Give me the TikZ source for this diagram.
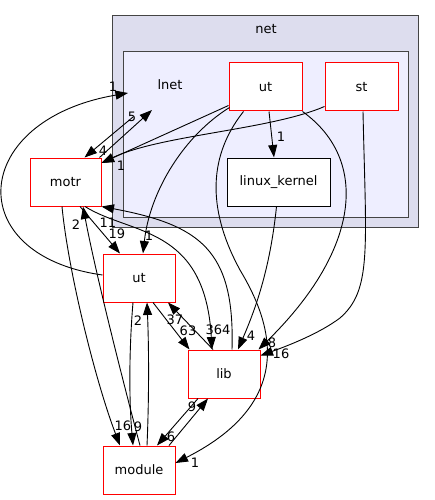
\documentclass[tikz,border=0pt]{standalone}
\usepackage{fontspec}
\setmainfont{DejaVu Sans}
\usetikzlibrary{arrows.meta}
\definecolor{outerfill}{HTML}{DDDDEE}
\definecolor{innerfill}{HTML}{EEEEFF}
\definecolor{clborder}{HTML}{444444}
\begin{document}
\begin{tikzpicture}[x=1pt,y=-1pt,
  font=\fontsize{13}{15}\selectfont,
  dirbox/.style={draw=red, fill=white, line width=1pt, minimum width=72pt, minimum height=48pt, inner sep=0pt},
  dep/.style={draw=black, line width=0.9pt, -{Triangle[length=12.5pt,width=9pt]}},
  lbl/.style={inner sep=0pt, font=\fontsize{13}{15}\selectfont}]
\useasboundingbox (0,0) rectangle (435,500);
% clusters
\draw[clborder, fill=outerfill, line width=1pt] (112.5,15.5) rectangle (418.5,227.5);
\draw[clborder, fill=innerfill, line width=1pt] (123,52) rectangle (408.5,217);
\node (net) at (266,29) {net};
\node (lnet) at (170,85) {lnet};
\coordinate (lnetA) at (128,93);
\coordinate (lnetB) at (152,110);
\coordinate (lnetC) at (133,117);
% nodes
\node[dirbox, minimum width=71pt] (motr) at (65.5,182) {motr};
\node[dirbox] (uto) at (139,278) {ut};
\node[dirbox] (lib) at (224,374) {lib};
\node[dirbox] (module) at (139,470) {module};
\node[dirbox, minimum width=73pt] (utl) at (265.5,87) {ut};
\node[dirbox, minimum width=73pt] (st) at (361.5,87) {st};
\node[dirbox, draw=black, minimum width=103pt] (lk) at (278.5,182) {linux\_kernel};
% edges
\draw[dep] ([shift={(0,-3)}]uto.west) .. controls (-40,255) and (-30,120) .. (lnetA);
\draw[dep] ([shift={(34,0)}]motr.north) -- (lnetB);
\draw[dep] (lnetC) -- ([shift={(19,0)}]motr.north);
\draw[dep] ([shift={(0,-6)}]utl.south west) -- ([shift={(0,-19)}]motr.east);
\draw[dep] ([shift={(0,-5)}]st.south west) .. controls (270,130) and (160,135) .. ([shift={(0,-19)}]motr.east);
\draw[dep] ([shift={(1,-4)}]utl.south west) .. controls (185,135) and (150,190) .. ([shift={(4,0)}]uto.north);
\draw[dep] ([shift={(3.5,0)}]utl.south) -- ([shift={(-4.5,0)}]lk.north);
\draw[dep] (utl.south east) .. controls (370,160) and (360,250) .. ([shift={(-2,0)}]lib.north east);
\draw[dep] ([shift={(1.5,0)}]st.south) .. controls (366,250) and (372,290) .. (340,318) .. controls (320,333) and (290,345) .. ([shift={(0,6)}]lib.north east);
\draw[dep] ([shift={(-22,0)}]utl.south) .. controls (205,160) and (210,215) .. (240,270) .. controls (270,320) and (300,400) .. ([shift={(0,-7)}]module.east);
\draw[dep] ([shift={(-2,0)}]lk.south) .. controls (270,270) and (255,310) .. ([shift={(14,0)}]lib.north);
\draw[dep] ([shift={(-3.5,0)}]motr.south) .. controls (68,270) and (95,380) .. ([shift={(-19,0)}]module.north);
\draw[dep] ([shift={(1,0)}]module.north) .. controls (120,370) and (95,270) .. ([shift={(17.5,0)}]motr.south);
\draw[dep] ([shift={(14.5,0)}]motr.south) -- ([shift={(-19,0)}]uto.north);
\draw[dep] ([shift={(19.5,0)}]motr.south) .. controls (130,235) and (205,225) .. ([shift={(-12,0)}]lib.north);
\draw[dep] ([shift={(8,0)}]lib.north) .. controls (235,250) and (200,225) .. (motr.south east);
\draw[dep] ([shift={(14,0)}]uto.south) -- ([shift={(2,0)}]lib.north west);
\draw[dep] ([shift={(-11,0)}]lib.north) -- ([shift={(29,0)}]uto.south);
\draw[dep] ([shift={(-6,0)}]uto.south) .. controls (129,350) and (129,400) .. ([shift={(-6,0)}]module.north);
\draw[dep] ([shift={(8,0)}]module.north) .. controls (149,400) and (149,350) .. ([shift={(8,0)}]uto.south);
\draw[dep] ([shift={(-26,0)}]lib.south) -- ([shift={(18,0)}]module.north);
\draw[dep] ([shift={(30,0)}]module.north) -- ([shift={(-16,0)}]lib.south);
% labels
\node[lbl] (l1) at (113,87) {1};
\node[lbl] (l2) at (132,117) {5};
\node[lbl] (l3) at (103,151) {4};
\node[lbl] (l4) at (121,166) {1};
\node[lbl] (l5) at (281,137) {1};
\node[lbl] (l6) at (108,223) {11};
\node[lbl] (l7) at (117,234) {19};
\node[lbl] (l8) at (76,225) {2};
\node[lbl] (l9) at (149,236) {1};
\node[lbl] (l10) at (138,321) {2};
\node[lbl] (l11) at (175,320) {37};
\node[lbl] (l12) at (188,331) {63};
\node[lbl] (l13) at (218,330) {364};
\node[lbl] (l14) at (251,336) {4};
\node[lbl] (l15) at (272,343) {8};
\node[lbl] (l16) at (281,354) {16};
\node[lbl] (l17) at (123,426) {16};
\node[lbl] (l18) at (138,427) {9};
\node[lbl] (l19) at (192,407) {9};
\node[lbl] (l20) at (171,437) {6};
\node[lbl] (l21) at (195,463) {1};
\end{tikzpicture}
\end{document}
